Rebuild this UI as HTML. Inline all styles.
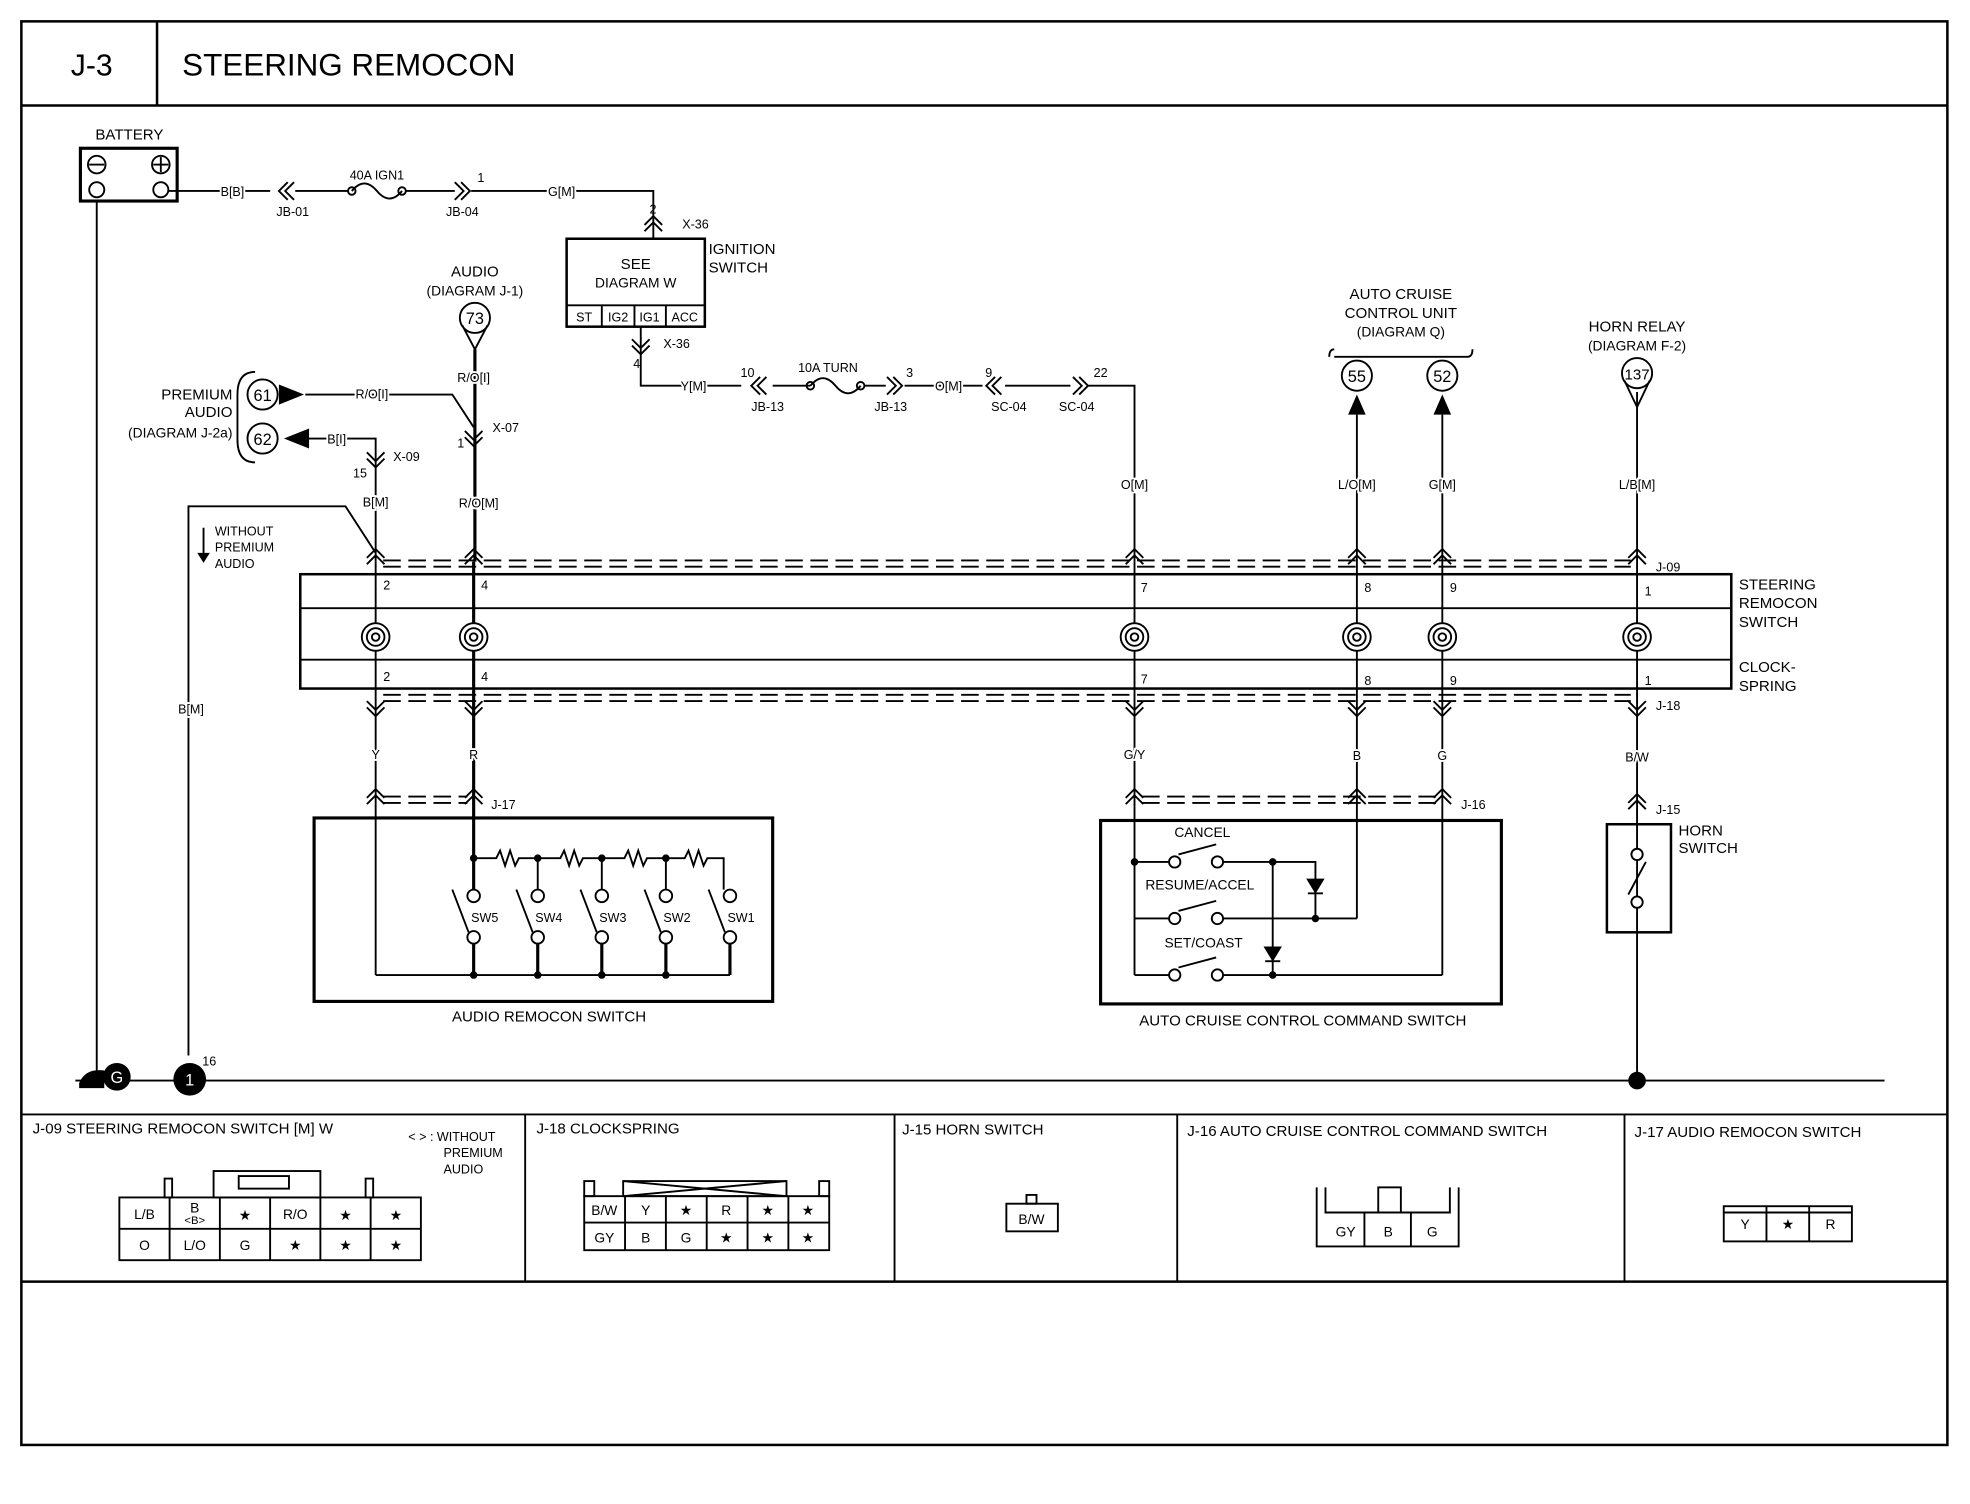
<!DOCTYPE html>
<html><head><meta charset="utf-8"><style>
html,body{margin:0;padding:0;background:#fff}
svg{display:block}
text{font-family:"Liberation Sans",Arial,sans-serif;fill:#000}
.w text,text.w{paint-order:stroke;stroke:#fff;stroke-width:3px}
</style></head><body>
<svg width="1970" height="1504" viewBox="0 0 1568 1197" preserveAspectRatio="none" xmlns="http://www.w3.org/2000/svg">
<defs>
<g id="cu"><polyline points="-7,7 0,0 7,7" fill="none" stroke="#000" stroke-width="1.5"/><polyline points="-7,12 0,5 7,12" fill="none" stroke="#000" stroke-width="1.5"/></g>
<g id="cd"><polyline points="-7,-7 0,0 7,-7" fill="none" stroke="#000" stroke-width="1.5"/><polyline points="-7,-12 0,-5 7,-12" fill="none" stroke="#000" stroke-width="1.5"/></g>
<g id="cl"><polyline points="7,-7 0,0 7,7" fill="none" stroke="#000" stroke-width="1.5"/><polyline points="12,-7 5,0 12,7" fill="none" stroke="#000" stroke-width="1.5"/></g>
<g id="cr"><polyline points="-7,-7 0,0 -7,7" fill="none" stroke="#000" stroke-width="1.5"/><polyline points="-12,-7 -5,0 -12,7" fill="none" stroke="#000" stroke-width="1.5"/></g>
<g id="sp"><circle r="11" fill="#fff" stroke="#000" stroke-width="1.5"/><circle r="7" fill="none" stroke="#000" stroke-width="1.5"/><circle r="3" fill="none" stroke="#000" stroke-width="1.5"/></g>
</defs>
<g fill="none" stroke="#000" stroke-width="1.5">
<rect x="17" y="17" width="1533" height="1133" stroke-width="2"/>
<line x1="17" y1="84" x2="1550" y2="84" stroke-width="2"/>
<line x1="125" y1="17" x2="125" y2="84" stroke-width="2"/>
<rect x="64" y="118" width="77" height="42" stroke-width="2.5"/>
<circle cx="77" cy="131" r="7"/><line x1="71" y1="131" x2="83" y2="131"/>
<circle cx="128" cy="131" r="7"/><line x1="122" y1="131" x2="134" y2="131"/><line x1="128" y1="125" x2="128" y2="137"/>
<circle cx="77" cy="151" r="6"/><circle cx="128" cy="151" r="6"/>
<polyline points="134,152 215,152"/>
<path d="M280,152 q10,-12 20,0 q10,12 20,0"/><circle cx="280" cy="152" r="3"/><circle cx="320" cy="152" r="3"/>
<line x1="235" y1="152" x2="277" y2="152"/><line x1="323" y1="152" x2="362" y2="152"/>
<polyline points="375,152 520,152 520,190"/>
<rect x="451" y="190" width="110" height="70" stroke-width="2"/>
<line x1="451" y1="243" x2="561" y2="243"/>
<line x1="479" y1="243" x2="479" y2="260"/><line x1="505" y1="243" x2="505" y2="260"/><line x1="530" y1="243" x2="530" y2="260"/>
<polyline points="510,260 510,307 590,307"/>
<line x1="615" y1="307" x2="645" y2="307"/>
<path d="M645,307 q10,-12 20,0 q10,12 20,0"/><circle cx="645" cy="307" r="3"/><circle cx="685" cy="307" r="3"/>
<line x1="688" y1="307" x2="705" y2="307"/><line x1="720" y1="307" x2="782" y2="307"/>
<line x1="800" y1="307" x2="852" y2="307"/>
<polyline points="865,307 903,307 903,447"/>
<circle cx="378" cy="253" r="12"/><polyline points="368,259 378,278 388,259"/>
<line x1="378" y1="278" x2="378" y2="447" stroke-width="2.5"/>
<circle cx="209" cy="314" r="12"/><circle cx="209" cy="349" r="12"/>
<path d="M203,296 q-14,0 -14,18 v36 q0,18 14,18"/>
<polyline points="243,314 360,314 377,340"/>
<polyline points="245,349 299,349 299,447"/>
<polyline points="150,840 150,403 275,403 299,440"/>
<line x1="162" y1="420" x2="162" y2="445"/>
<line x1="77" y1="160" x2="77" y2="855"/>
<line x1="60" y1="860" x2="1500" y2="860"/>
<rect x="239" y="457" width="1139" height="91" stroke-width="2"/>
<line x1="239" y1="484" x2="1378" y2="484"/><line x1="239" y1="525" x2="1378" y2="525"/>
<g stroke-dasharray="14,6"><line x1="305" y1="446" x2="1298" y2="446"/><line x1="305" y1="451" x2="1298" y2="451"/>
<line x1="305" y1="553" x2="1298" y2="553"/><line x1="305" y1="558" x2="1298" y2="558"/>
<line x1="305" y1="634" x2="372" y2="634"/><line x1="305" y1="639" x2="372" y2="639"/>
<line x1="909" y1="634" x2="1143" y2="634"/><line x1="909" y1="639" x2="1143" y2="639"/></g>
<g>
<line x1="299" y1="447" x2="299" y2="776"/>
<line x1="377" y1="447" x2="377" y2="683" stroke-width="2.5"/>
<line x1="903" y1="447" x2="903" y2="776"/>
<line x1="1080" y1="330" x2="1080" y2="731"/>
<line x1="1148" y1="330" x2="1148" y2="776"/>
<line x1="1303" y1="312" x2="1303" y2="856"/>
</g>
<circle cx="1080" cy="299" r="12"/><circle cx="1148" cy="299" r="12"/><circle cx="1303" cy="297" r="12"/>
<polyline points="1293,303 1303,324 1313,303"/>
<path d="M1062,278 q-4,0 -4,6 M1062,284 h106 M1168,284 q4,0 4,-6"/>
<rect x="250" y="651" width="365" height="146" stroke-width="2.5"/>
<line x1="377" y1="683" x2="377" y2="708" stroke-width="2.5"/>
<path d="M377,683 h18 l3,-6 l4,12 l4,-12 l4,12 l3,-6 h17 M428,683 h18 l3,-6 l4,12 l4,-12 l4,12 l3,-6 h17 M479,683 h18 l3,-6 l4,12 l4,-12 l4,12 l3,-6 h17 M530,683 h15 l3,-6 l4,12 l4,-12 l4,12 l3,-6 h13 v25"/>
<line x1="428" y1="683" x2="428" y2="708"/><line x1="479" y1="683" x2="479" y2="708"/><line x1="530" y1="683" x2="530" y2="708"/>
<g>
<circle cx="377" cy="713" r="5"/><circle cx="377" cy="746" r="5"/><line x1="360" y1="708" x2="373" y2="742"/>
<circle cx="428" cy="713" r="5"/><circle cx="428" cy="746" r="5"/><line x1="411" y1="708" x2="424" y2="742"/>
<circle cx="479" cy="713" r="5"/><circle cx="479" cy="746" r="5"/><line x1="462" y1="708" x2="475" y2="742"/>
<circle cx="530" cy="713" r="5"/><circle cx="530" cy="746" r="5"/><line x1="513" y1="708" x2="526" y2="742"/>
<circle cx="581" cy="713" r="5"/><circle cx="581" cy="746" r="5"/><line x1="564" y1="708" x2="577" y2="742"/>
</g>
<line x1="377" y1="751" x2="377" y2="776" stroke-width="2.5"/><line x1="428" y1="751" x2="428" y2="776" stroke-width="2.5"/><line x1="479" y1="751" x2="479" y2="776" stroke-width="2.5"/><line x1="530" y1="751" x2="530" y2="776" stroke-width="2.5"/><line x1="581" y1="751" x2="581" y2="776" stroke-width="2.5"/>
<line x1="299" y1="776" x2="581" y2="776"/>
<rect x="876" y="653" width="319" height="146" stroke-width="2.5"/>
<line x1="903" y1="686" x2="930" y2="686"/><line x1="903" y1="731" x2="930" y2="731"/><line x1="903" y1="776" x2="930" y2="776"/>
<circle cx="935" cy="686" r="4.5"/><circle cx="969" cy="686" r="4.5"/><line x1="938" y1="680" x2="968" y2="672"/>
<circle cx="935" cy="731" r="4.5"/><circle cx="969" cy="731" r="4.5"/><line x1="938" y1="725" x2="968" y2="717"/>
<circle cx="935" cy="776" r="4.5"/><circle cx="969" cy="776" r="4.5"/><line x1="938" y1="770" x2="968" y2="762"/>
<polyline points="974,686 1047,686 1047,731"/>
<line x1="974" y1="731" x2="1080" y2="731"/>
<line x1="974" y1="776" x2="1148" y2="776"/>
<line x1="1013" y1="686" x2="1013" y2="776"/>
<polygon points="1041,700 1053,700 1047,710" fill="#000"/><line x1="1041" y1="711" x2="1053" y2="711"/>
<polygon points="1007,754 1019,754 1013,764" fill="#000"/><line x1="1007" y1="765" x2="1019" y2="765"/>
<rect x="1279" y="656" width="51" height="86" stroke-width="2"/>
<circle cx="1303" cy="680" r="4.5" fill="#fff"/><circle cx="1303" cy="718" r="4.5" fill="#fff"/><line x1="1310" y1="686" x2="1296" y2="712"/>
<line x1="17" y1="887" x2="1550" y2="887"/>
<line x1="17" y1="1020" x2="1550" y2="1020" stroke-width="2"/>
<line x1="418" y1="887" x2="418" y2="1020"/><line x1="712" y1="887" x2="712" y2="1020"/><line x1="937" y1="887" x2="937" y2="1020"/><line x1="1293" y1="887" x2="1293" y2="1020"/>
<rect x="170" y="932" width="85" height="21"/><rect x="190" y="936" width="40" height="10"/>
<path d="M95,1003 v-50 h240 v50 z"/>
<line x1="95" y1="978" x2="335" y2="978"/>
<line x1="135" y1="953" x2="135" y2="1003"/><line x1="175" y1="953" x2="175" y2="1003"/><line x1="215" y1="953" x2="215" y2="1003"/><line x1="255" y1="953" x2="255" y2="1003"/><line x1="295" y1="953" x2="295" y2="1003"/>
<rect x="131" y="938" width="6" height="15"/><rect x="291" y="938" width="6" height="15"/>
<rect x="465" y="952" width="195" height="43"/><line x1="465" y1="973" x2="660" y2="973"/>
<line x1="497.5" y1="952" x2="497.5" y2="995"/><line x1="530" y1="952" x2="530" y2="995"/><line x1="562.5" y1="952" x2="562.5" y2="995"/><line x1="595" y1="952" x2="595" y2="995"/><line x1="627.5" y1="952" x2="627.5" y2="995"/>
<rect x="496" y="940" width="130" height="12"/><line x1="496" y1="940" x2="626" y2="952"/><line x1="626" y1="940" x2="496" y2="952"/>
<rect x="465" y="940" width="8" height="12"/><rect x="652" y="940" width="8" height="12"/>
<rect x="801" y="958" width="41" height="22"/><rect x="817" y="951" width="8" height="7"/>
<path d="M1048,945 v47 h113 v-47 M1055,945 v20 h99 v-20"/><line x1="1086" y1="965" x2="1086" y2="992"/><line x1="1123" y1="965" x2="1123" y2="992"/>
<rect x="1097" y="945" width="18" height="20"/>
<rect x="1372" y="960" width="102" height="28"/><line x1="1372" y1="965" x2="1474" y2="965"/><line x1="1406" y1="960" x2="1406" y2="988"/><line x1="1440" y1="960" x2="1440" y2="988"/>
</g>
<use href="#cl" x="222" y="152"/><use href="#cr" x="374" y="152"/><use href="#cu" x="520" y="172"/>
<use href="#cd" x="510" y="282"/><use href="#cl" x="598" y="307"/><use href="#cr" x="718" y="307"/><use href="#cl" x="785" y="307"/><use href="#cr" x="866" y="307"/>
<use href="#cd" x="377" y="355"/><use href="#cd" x="299" y="372"/>
<use href="#cu" x="299" y="437"/><use href="#cu" x="377" y="437"/><use href="#cu" x="903" y="437"/><use href="#cu" x="1080" y="437"/><use href="#cu" x="1148" y="437"/><use href="#cu" x="1303" y="437"/>
<use href="#cd" x="299" y="570"/><use href="#cd" x="377" y="570"/><use href="#cd" x="903" y="570"/><use href="#cd" x="1080" y="570"/><use href="#cd" x="1148" y="570"/><use href="#cd" x="1303" y="570"/>
<use href="#cu" x="299" y="628"/><use href="#cu" x="377" y="628"/><use href="#cu" x="903" y="628"/><use href="#cu" x="1080" y="628"/><use href="#cu" x="1148" y="628"/><use href="#cu" x="1303" y="632"/>
<use href="#sp" x="299" y="507"/><use href="#sp" x="377" y="507"/><use href="#sp" x="903" y="507"/><use href="#sp" x="1080" y="507"/><use href="#sp" x="1148" y="507"/><use href="#sp" x="1303" y="507"/>
<polygon points="222,306 242,314 222,322"/><polygon points="246,341 226,349 246,357"/>
<polygon points="1073,330 1080,314 1087,330"/><polygon points="1141,330 1148,314 1155,330"/>
<polygon points="157,440 162,448 167,440"/>
<g fill="#000"><circle cx="377" cy="683" r="3"/><circle cx="428" cy="683" r="3"/><circle cx="479" cy="683" r="3"/><circle cx="530" cy="683" r="3"/>
<circle cx="377" cy="776" r="3"/><circle cx="428" cy="776" r="3"/><circle cx="479" cy="776" r="3"/><circle cx="530" cy="776" r="3"/>
<circle cx="903" cy="686" r="3"/><circle cx="1013" cy="686" r="3"/><circle cx="1013" cy="776" r="3"/><circle cx="1047" cy="731" r="3"/>
<circle cx="1303" cy="860" r="7"/><circle cx="151" cy="859" r="13"/><circle cx="93" cy="857" r="11"/>
<path d="M63,862 q5,-12 20,-10 l0,14 h-20z"/></g>
<text x="151" y="864" font-size="13" text-anchor="middle" style="fill:#fff">1</text>
<text x="93" y="862" font-size="13" text-anchor="middle" style="fill:#fff">G</text>
<g font-size="11">
<text x="73" y="60" font-size="24" text-anchor="middle">J-3</text>
<text x="145" y="60" font-size="25">STEERING REMOCON</text>
<text x="103" y="111" font-size="12" text-anchor="middle">BATTERY</text>
<g class="w">
<text x="185" y="156" font-size="10" text-anchor="middle">B[B]</text>
<text x="447" y="156" font-size="10" text-anchor="middle">G[M]</text>
<text x="552" y="311" font-size="10" text-anchor="middle">Y[M]</text>
<text x="755" y="311" font-size="10" text-anchor="middle">O[M]</text>
<text x="377" y="304" font-size="10" text-anchor="middle">R/O[I]</text>
<text x="381" y="404" font-size="10" text-anchor="middle">R/O[M]</text>
<text x="296" y="317" font-size="10" text-anchor="middle">R/O[I]</text>
<text x="268" y="353" font-size="10" text-anchor="middle">B[I]</text>
<text x="299" y="403" font-size="10" text-anchor="middle">B[M]</text>
<text x="152" y="568" font-size="10" text-anchor="middle">B[M]</text>
<text x="903" y="389" font-size="10" text-anchor="middle">O[M]</text>
<text x="1080" y="389" font-size="10" text-anchor="middle">L/O[M]</text>
<text x="1148" y="389" font-size="10" text-anchor="middle">G[M]</text>
<text x="1303" y="389" font-size="10" text-anchor="middle">L/B[M]</text>
<text x="299" y="604" font-size="10" text-anchor="middle">Y</text><text x="377" y="604" font-size="10" text-anchor="middle">R</text><text x="903" y="604" font-size="10" text-anchor="middle">G/Y</text><text x="1080" y="605" font-size="10" text-anchor="middle">B</text><text x="1148" y="605" font-size="10" text-anchor="middle">G</text><text x="1303" y="606" font-size="10" text-anchor="middle">B/W</text>
</g>
<text x="300" y="143" font-size="10" text-anchor="middle">40A IGN1</text>
<text x="233" y="172" font-size="10" text-anchor="middle">JB-01</text>
<text x="368" y="172" font-size="10" text-anchor="middle">JB-04</text>
<text x="380" y="145" font-size="10">1</text>
<text x="517" y="170" font-size="10">2</text><text x="543" y="182" font-size="10">X-36</text>
<text x="506" y="214" font-size="12" text-anchor="middle">SEE</text>
<text x="506" y="229" font-size="11" text-anchor="middle">DIAGRAM W</text>
<text x="465" y="256" font-size="10" text-anchor="middle">ST</text><text x="492" y="256" font-size="10" text-anchor="middle">IG2</text><text x="517" y="256" font-size="10" text-anchor="middle">IG1</text><text x="545" y="256" font-size="10" text-anchor="middle">ACC</text>
<text x="564" y="202" font-size="12">IGNITION</text><text x="564" y="217" font-size="12">SWITCH</text>
<text x="528" y="277" font-size="10">X-36</text><text x="504" y="293" font-size="10">4</text>
<text x="595" y="300" font-size="10" text-anchor="middle">10</text><text x="611" y="327" font-size="10" text-anchor="middle">JB-13</text>
<text x="659" y="296" font-size="10" text-anchor="middle">10A TURN</text>
<text x="724" y="300" font-size="10" text-anchor="middle">3</text><text x="709" y="327" font-size="10" text-anchor="middle">JB-13</text>
<text x="787" y="300" font-size="10" text-anchor="middle">9</text><text x="803" y="327" font-size="10" text-anchor="middle">SC-04</text>
<text x="876" y="300" font-size="10" text-anchor="middle">22</text><text x="857" y="327" font-size="10" text-anchor="middle">SC-04</text>
<text x="378" y="220" font-size="12" text-anchor="middle">AUDIO</text><text x="378" y="235" font-size="11" text-anchor="middle">(DIAGRAM J-1)</text>
<text x="378" y="258" font-size="13" text-anchor="middle">73</text>
<text x="364" y="356" font-size="10">1</text><text x="392" y="344" font-size="10">X-07</text>
<text x="185" y="318" font-size="12" text-anchor="end">PREMIUM</text><text x="185" y="332" font-size="12" text-anchor="end">AUDIO</text><text x="185" y="348" font-size="11" text-anchor="end">(DIAGRAM J-2a)</text>
<text x="209" y="319" font-size="13" text-anchor="middle">61</text><text x="209" y="354" font-size="13" text-anchor="middle">62</text>
<text x="281" y="380" font-size="10">15</text><text x="313" y="367" font-size="10">X-09</text>
<text x="171" y="426" font-size="10">WITHOUT</text><text x="171" y="439" font-size="10">PREMIUM</text><text x="171" y="452" font-size="10">AUDIO</text>
<text x="161" y="848" font-size="10">16</text>
<text x="1115" y="238" font-size="12" text-anchor="middle">AUTO CRUISE</text><text x="1115" y="253" font-size="12" text-anchor="middle">CONTROL UNIT</text><text x="1115" y="268" font-size="11" text-anchor="middle">(DIAGRAM Q)</text>
<text x="1080" y="304" font-size="13" text-anchor="middle">55</text><text x="1148" y="304" font-size="13" text-anchor="middle">52</text>
<text x="1303" y="264" font-size="12" text-anchor="middle">HORN RELAY</text><text x="1303" y="279" font-size="11" text-anchor="middle">(DIAGRAM F-2)</text>
<text x="1303" y="302" font-size="12" text-anchor="middle">137</text>
<text x="1318" y="455" font-size="10">J-09</text><text x="1318" y="565" font-size="10">J-18</text>
<text x="1384" y="469" font-size="12">STEERING</text><text x="1384" y="484" font-size="12">REMOCON</text><text x="1384" y="499" font-size="12">SWITCH</text>
<text x="1384" y="535" font-size="12">CLOCK-</text><text x="1384" y="550" font-size="12">SPRING</text>
<g font-size="10">
<text x="305" y="469">2</text><text x="383" y="469">4</text><text x="908" y="471">7</text><text x="1086" y="471">8</text><text x="1154" y="471">9</text><text x="1309" y="474">1</text>
<text x="305" y="542">2</text><text x="383" y="542">4</text><text x="908" y="544">7</text><text x="1086" y="545">8</text><text x="1154" y="545">9</text><text x="1309" y="545">1</text>
<text x="391" y="644">J-17</text><text x="1163" y="644">J-16</text><text x="1318" y="648">J-15</text>
<text x="375" y="734">SW5</text><text x="426" y="734">SW4</text><text x="477" y="734">SW3</text><text x="528" y="734">SW2</text><text x="579" y="734">SW1</text>
</g>
<text x="437" y="813" font-size="12" text-anchor="middle">AUDIO REMOCON SWITCH</text>
<text x="957" y="666" font-size="11" text-anchor="middle">CANCEL</text>
<text x="955" y="708" font-size="11" text-anchor="middle">RESUME/ACCEL</text>
<text x="958" y="754" font-size="11" text-anchor="middle">SET/COAST</text>
<text x="1037" y="816" font-size="12" text-anchor="middle">AUTO CRUISE CONTROL COMMAND SWITCH</text>
<text x="1336" y="665" font-size="12">HORN</text><text x="1336" y="679" font-size="12">SWITCH</text>
<text x="26" y="902" font-size="12">J-09 STEERING REMOCON SWITCH [M] W</text>
<text x="325" y="908" font-size="10">&lt; &gt; : WITHOUT</text><text x="353" y="921" font-size="10">PREMIUM</text><text x="353" y="934" font-size="10">AUDIO</text>
<text x="427" y="902" font-size="12">J-18 CLOCKSPRING</text>
<text x="718" y="903" font-size="12">J-15 HORN SWITCH</text>
<text x="945" y="904" font-size="12">J-16 AUTO CRUISE CONTROL COMMAND SWITCH</text>
<text x="1301" y="905" font-size="12">J-17 AUDIO REMOCON SWITCH</text>
<g font-size="11" text-anchor="middle">
<text x="115" y="970">L/B</text><text x="155" y="965">B</text><text x="155" y="974" font-size="9">&lt;B&gt;</text><text x="195" y="971">★</text><text x="235" y="970">R/O</text><text x="275" y="971">★</text><text x="315" y="971">★</text>
<text x="115" y="995">O</text><text x="155" y="995">L/O</text><text x="195" y="995">G</text><text x="235" y="995">★</text><text x="275" y="995">★</text><text x="315" y="995">★</text>
<text x="481" y="967">B/W</text><text x="514" y="967">Y</text><text x="546" y="967">★</text><text x="578" y="967">R</text><text x="611" y="967">★</text><text x="643" y="967">★</text>
<text x="481" y="989">GY</text><text x="514" y="989">B</text><text x="546" y="989">G</text><text x="578" y="989">★</text><text x="611" y="989">★</text><text x="643" y="989">★</text>
<text x="821" y="974">B/W</text>
<text x="1071" y="984">GY</text><text x="1105" y="984">B</text><text x="1140" y="984">G</text>
<text x="1389" y="978">Y</text><text x="1423" y="978">★</text><text x="1457" y="978">R</text>
</g>
</g>
</svg>
</body></html>
